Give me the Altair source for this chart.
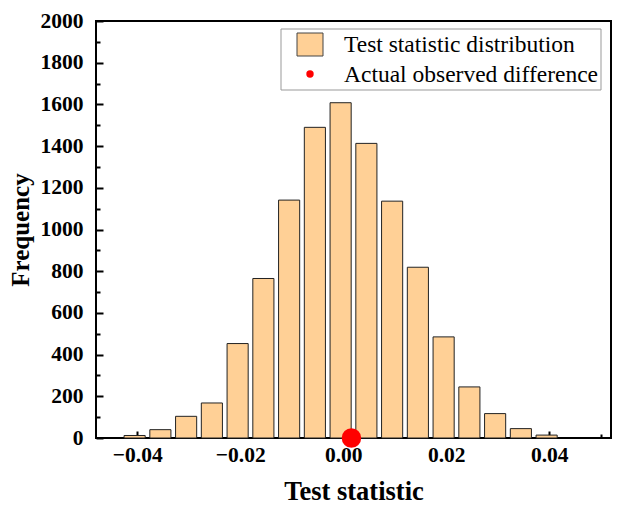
import altair as alt
import pandas as pd

# Histogram of the permutation test statistic (bin centres and counts)
bin_centers = [-0.0405, -0.0355, -0.0305, -0.0255, -0.0205, -0.0155, -0.0105, -0.0055,
               -0.0005, 0.0045, 0.0095, 0.0145, 0.0195, 0.0245, 0.0295, 0.0345, 0.0395]
counts = [12, 40, 104, 168, 453, 765, 1141, 1490, 1608, 1413, 1136, 819, 485, 245, 117, 45, 14]
bar_half_width = 0.00205

# Observed difference
observed_value = [0.0016]
observed_y = [0]

# Axis ticks
x_major = [-0.04, -0.02, 0.0, 0.02, 0.04]
x_minor = [-0.03, -0.01, 0.01, 0.03, 0.05]
y_major = list(range(0, 2001, 200))
y_minor = list(range(100, 2000, 200))

legend_labels = ["Test statistic distribution", "Actual observed difference"]

W, H = 515, 417
FONT = "Liberation Serif"
BAR_FILL = "#FFD096"

hist = pd.DataFrame({
    "lo": [c - bar_half_width for c in bin_centers],
    "hi": [c + bar_half_width for c in bin_centers],
    "count": counts,
})
obs = pd.DataFrame({"value": observed_value, "y": observed_y})

xscale = alt.Scale(domain=[-0.048, 0.052], nice=False, zero=False)
yscale = alt.Scale(domain=[0, 2000], nice=False)

label_axis_common = dict(
    labelFont=FONT, labelFontSize=21.5, labelFontWeight="bold", labelColor="black",
    titleFont=FONT, titleFontWeight="bold", titleColor="black",
    ticks=False, domain=False, grid=False, labelOverlap=False,
)

bars = alt.Chart(hist).mark_rect(
    fill=BAR_FILL, stroke="#222222", strokeWidth=1
).encode(
    x=alt.X("lo:Q", scale=xscale,
            axis=alt.Axis(orient="bottom", values=x_major, format=".2f",
                          labelPadding=6, titlePadding=13, titleFontSize=26.5,
                          **label_axis_common),
            title="Test statistic"),
    x2="hi:Q",
    y=alt.Y("count:Q", scale=yscale,
            axis=alt.Axis(orient="left", values=y_major, format="d",
                          labelPadding=13, titlePadding=7, titleFontSize=25,
                          **label_axis_common),
            title="Frequency"),
    y2=alt.datum(0),
)


def tick_layer(xvals, yvals, size):
    # Inward-pointing ticks: axes placed on the opposite side and shifted onto the frame
    tick_common = dict(labels=False, domain=False, grid=False, ticks=True,
                       tickColor="black", tickWidth=2, tickSize=size, title=None)
    return alt.Chart(hist).mark_point(opacity=0).encode(
        x=alt.X("lo:Q", scale=xscale,
                axis=alt.Axis(orient="top", offset=-H, values=xvals, **tick_common)),
        y=alt.Y("count:Q", scale=yscale,
                axis=alt.Axis(orient="right", offset=-W, values=yvals, **tick_common)),
    )


major_ticks = tick_layer(x_major, y_major, 7)
minor_ticks = tick_layer(x_minor, y_minor, 4)

observed = alt.Chart(obs).mark_circle(size=380, color="red", opacity=1).encode(
    x=alt.X("value:Q", scale=xscale, axis=None),
    y=alt.Y("y:Q", scale=yscale, axis=None),
)

# Legend box drawn inside the plot frame
leg_df = pd.DataFrame({"label": legend_labels, "row": [0, 1]})
legend_frame = alt.Chart(leg_df.head(1)).mark_rect(
    fill="white", stroke="#999999", strokeWidth=1
).encode(x=alt.value(185), x2=alt.value(505), y=alt.value(8), y2=alt.value(69))
legend_square = alt.Chart(leg_df.head(1)).mark_rect(
    fill=BAR_FILL, stroke="#444444", strokeWidth=1
).encode(x=alt.value(201), x2=alt.value(227), y=alt.value(12), y2=alt.value(35))
legend_dot = alt.Chart(leg_df.tail(1)).mark_circle(
    size=55, color="red", opacity=1
).encode(x=alt.value(214), y=alt.value(53))
legend_text1 = alt.Chart(leg_df.head(1)).mark_text(
    align="left", baseline="alphabetic", font=FONT, fontSize=23.5, color="black"
).encode(x=alt.value(248), y=alt.value(31), text="label:N")
legend_text2 = alt.Chart(leg_df.tail(1)).mark_text(
    align="left", baseline="alphabetic", font=FONT, fontSize=23.5, color="black"
).encode(x=alt.value(248), y=alt.value(61), text="label:N")

chart = alt.layer(
    bars, major_ticks, minor_ticks, observed,
    legend_frame, legend_square, legend_dot, legend_text1, legend_text2,
).resolve_axis(
    x="independent", y="independent"
).properties(
    width=W, height=H,
    autosize=alt.AutoSizeParams(type="none"),
    padding={"left": 96, "top": 21, "right": 8, "bottom": 71},
    background="white",
).configure_view(
    stroke="black", strokeWidth=2
)

chart.save("out.html", embed_options={"renderer": "svg", "actions": False})
